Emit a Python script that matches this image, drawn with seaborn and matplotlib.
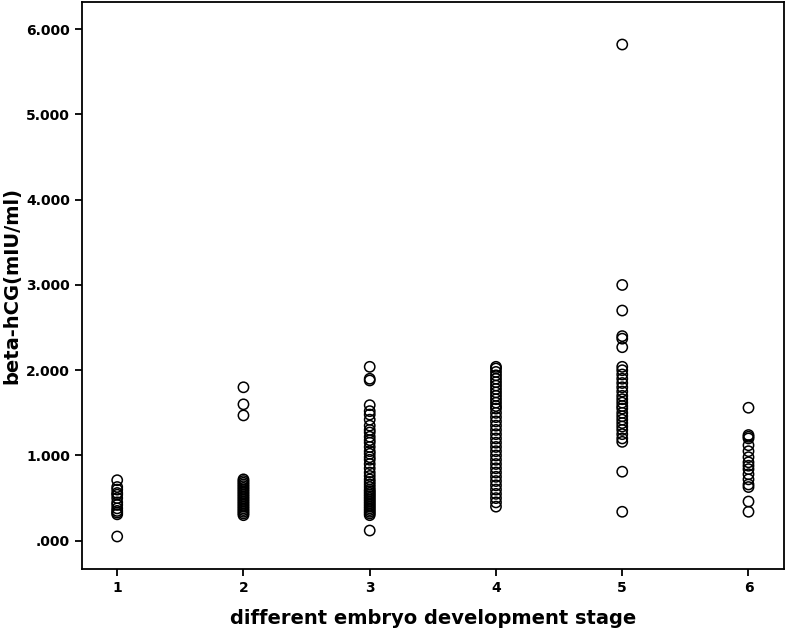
import matplotlib
matplotlib.use("Agg")
import matplotlib.pyplot as plt
import pandas as pd
import seaborn as sns

# beta-hCG values, one list per stage
stage1 = [0.71, 0.63, 0.60, 0.56, 0.54, 0.50, 0.45, 0.42, 0.38, 0.35, 0.33, 0.31, 0.05]
stage2 = [1.80, 1.60, 1.47, 0.72, 0.70, 0.68, 0.66, 0.64, 0.62, 0.60, 0.58, 0.56, 0.54,
          0.52, 0.50, 0.48, 0.46, 0.44, 0.42, 0.40, 0.38, 0.36, 0.34, 0.32, 0.30]
stage3 = [2.04, 1.90, 1.88, 1.59, 1.52, 1.48, 1.42, 1.35, 1.30, 1.27, 1.22, 1.18, 1.15,
          1.10, 1.05, 1.02, 0.98, 0.95, 0.90, 0.85, 0.80, 0.76, 0.72, 0.69, 0.66, 0.63,
          0.60, 0.58, 0.56, 0.54, 0.52, 0.50, 0.48, 0.46, 0.44, 0.42, 0.40, 0.38, 0.36,
          0.34, 0.32, 0.30, 0.12]
stage4 = [2.04, 2.02, 1.98, 1.94, 1.90, 1.86, 1.82, 1.78, 1.74, 1.70, 1.66, 1.62, 1.58,
          1.55, 1.50, 1.45, 1.40, 1.35, 1.30, 1.25, 1.20, 1.15, 1.10, 1.05, 1.00, 0.95,
          0.90, 0.85, 0.80, 0.75, 0.70, 0.65, 0.60, 0.55, 0.50, 0.45, 0.40]
stage5 = [5.82, 3.00, 2.70, 2.40, 2.37, 2.27, 2.04, 2.00, 1.95, 1.90, 1.85, 1.80, 1.75,
          1.70, 1.66, 1.62, 1.58, 1.55, 1.50, 1.46, 1.42, 1.38, 1.34, 1.30, 1.25, 1.20,
          1.16, 0.81, 0.34]
stage6 = [1.56, 1.24, 1.22, 1.20, 1.12, 1.05, 0.98, 0.92, 0.88, 0.84, 0.78, 0.72, 0.66,
          0.63, 0.46, 0.34]

stages = [1, 2, 3, 4, 5, 6]
y_ticks = [0, 1, 2, 3, 4, 5, 6]
y_labels = [".000", "1.000", "2.000", "3.000", "4.000", "5.000", "6.000"]

rows = []
for s, vals in zip(stages, [stage1, stage2, stage3, stage4, stage5, stage6]):
    for v in vals:
        rows.append({"stage": s, "hcg": v})
df = pd.DataFrame(rows)

sns.set_style("ticks")
plt.rcParams["font.family"] = ["DejaVu Sans"]
plt.rcParams["font.weight"] = "bold"
plt.rcParams["text.color"] = "black"
plt.rcParams["axes.labelcolor"] = "black"
plt.rcParams["xtick.color"] = "black"
plt.rcParams["ytick.color"] = "black"

fig = plt.figure(figsize=(7.87, 6.30), dpi=100)
ax = fig.add_axes([0.104, 0.097, 0.892, 0.900])

sns.scatterplot(data=df, x="stage", y="hcg", ax=ax, marker="o", s=55,
                facecolor="none", edgecolor="black", linewidth=1.1)

ax.set_xlim(0.72, 6.28)
ax.set_ylim(-0.33, 6.32)
ax.set_xticks(stages)
ax.set_xticklabels([str(s) for s in stages], fontsize=10, fontweight="bold")
ax.set_yticks(y_ticks)
ax.set_yticklabels(y_labels, fontsize=10, fontweight="bold")
ax.tick_params(direction="out", length=5, width=1.3, color="black")

for sp in ax.spines.values():
    sp.set_linewidth(1.3)
    sp.set_color("black")

ax.set_xlabel("different embryo development stage", fontsize=14, fontweight="bold", labelpad=10)
ax.set_ylabel("beta-hCG(mIU/ml)", fontsize=14, fontweight="bold")
ax.yaxis.label.set_va("center")
ax.yaxis.set_label_coords(-0.1, 0.5)

fig.savefig("out.png", dpi=100)
